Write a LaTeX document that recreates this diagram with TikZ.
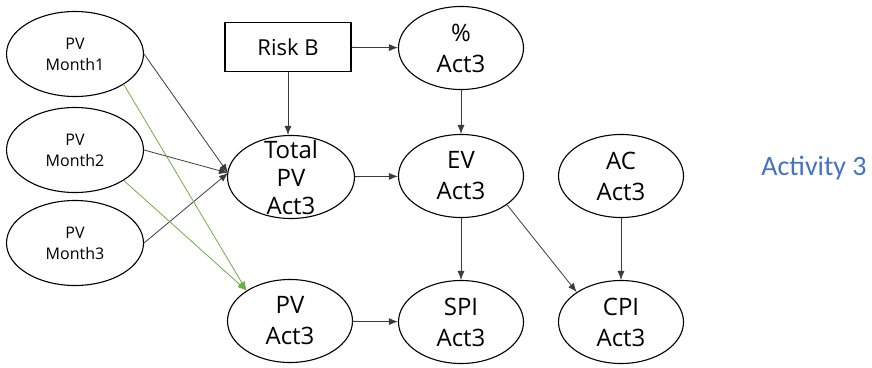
\documentclass[tikz,border=0pt]{standalone}
\usepackage{fontspec}
\setmainfont{Open Sans}
\newfontfamily\calib{Carlito}
\usetikzlibrary{arrows.meta,shapes.geometric}
\definecolor{linegray}{RGB}{60,60,60}
\definecolor{accblue}{RGB}{68,114,196}
\definecolor{accgreen}{RGB}{112,173,71}
\begin{document}
\begin{tikzpicture}[x=1pt,y=-1pt,
  ell/.style={draw=black,line width=1.1pt,ellipse,inner sep=0pt,align=center,
    minimum width=125pt,minimum height=83pt,font=\fontsize{24}{31}\selectfont},
  small/.style={ell,minimum width=137pt,minimum height=85pt,font=\fontsize{16}{21}\selectfont},
  conn/.style={draw=linegray,line width=0.8pt,-{Latex[length=9pt,width=7pt]}},
  gconn/.style={draw=accgreen,line width=0.8pt,-{Latex[length=9pt,width=7pt]}}]
\useasboundingbox (0,0) rectangle (872,367);
\node[small] (m1) at (75,54) {PV\\Month1};
\node[small] (m2) at (75,150) {PV\\Month2};
\node[small] (m3) at (75,243) {PV\\Month3};
\node[draw=black,line width=1.1pt,minimum width=126pt,minimum height=49pt,inner sep=0pt,
  font=\fontsize{22}{26}\selectfont] (risk) at (288,47) {Risk B};
\node[ell,minimum width=127pt,
  label={[align=center,inner sep=0pt,font=\fontsize{24}{28}\selectfont]center:Total\\PV\\Act3}] (tpv) at (291,177) {};
\node[ell] (pva) at (290,321) {PV\\Act3};
\node[ell] (pct) at (461,48) {\%\\Act3};
\node[ell] (ev) at (461,176) {EV\\Act3};
\node[ell] (spi) at (461,322) {SPI\\Act3};
\node[ell] (ac) at (621,176) {AC\\Act3};
\node[ell] (cpi) at (621,322) {CPI\\Act3};
\node[text=accblue,font=\calib\fontsize{28}{32}\selectfont] (act) at (814,168) {Activity 3};
\coordinate (tin) at (228,173);
\draw[conn] (risk) -- (pct);
\draw[conn] (risk.south) -- (risk.south |- tpv.north);
\draw[conn] (pct) -- (ev);
\draw[conn] (tpv) -- (ev);
\draw[conn] (pva) -- (spi);
\draw[conn] (ev) -- (spi);
\draw[conn] (ac) -- (cpi);
\draw[conn] (ev.-32) -- (cpi.146);
\draw[conn] (m1.east) -- (tin);
\draw[conn] (m2.east) -- (tin);
\draw[conn] (m3.east) -- (tin);
\draw[gconn] (m1.-32) -- (pva.145);
\draw[gconn] (m2.-32) -- (pva.145);
\end{tikzpicture}
\end{document}
